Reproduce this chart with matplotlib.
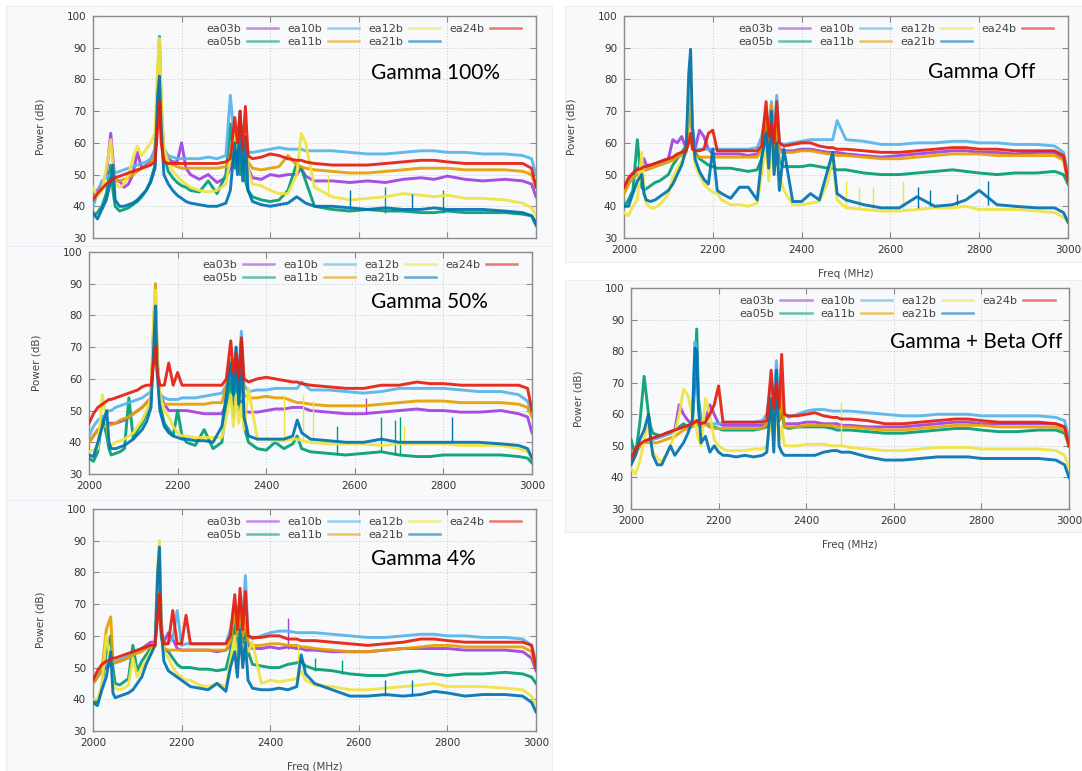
import matplotlib
matplotlib.use("Agg")
import matplotlib.pyplot as plt
import matplotlib.patches as mpatches

# shared frequency grid (MHz) used for every trace
FREQ = [2000, 2010, 2020, 2030, 2040, 2045, 2050,
        2060, 2070, 2080, 2090, 2100, 2110, 2120, 2130, 2140,
        2146, 2150, 2154,
        2160, 2170, 2180, 2190, 2200, 2210, 2220,
        2240, 2260, 2280, 2300,
        2310, 2320, 2326, 2332, 2338, 2344, 2350,
        2360, 2380, 2400, 2420, 2440, 2460,
        2470, 2480, 2500,
        2540, 2580, 2620, 2660, 2700, 2740, 2770, 2800, 2840, 2880, 2930, 2970,
        2990, 3000]

SERIES = ["ea03b", "ea05b", "ea10b", "ea11b", "ea12b", "ea21b", "ea24b"]
COLORS = {"ea03b": "#a040e0", "ea05b": "#009e73", "ea10b": "#56b4e9", "ea11b": "#e69f00",
          "ea12b": "#f0e442", "ea21b": "#0072b2", "ea24b": "#e51e10"}

# ---- Gamma 100% ----
g100_ea03b = [43, 45, 47, 50, 63, 55, 48,  48, 46, 47, 50, 57, 52, 53, 54, 58,  75, 86, 70,  57, 55, 54, 54, 60, 52, 50,
              48.5, 50, 47.5, 49,  52, 56, 53, 58, 52, 55, 52,  49, 48.5, 50, 49.5, 50, 50,  52, 49.5, 48,
              48, 47.5, 48, 47.5, 48.5, 49, 48.5, 49.5, 48.5, 48, 48.5, 48,  47, 43]
g100_ea05b = [37, 38, 40, 44, 53, 45, 40,  38.5, 39, 39.5, 40.5, 41.5, 43, 45, 48, 53,  80, 93.5, 72,  56, 51, 49, 47.5, 46.5, 46, 45,
              44.5, 48, 44, 50,  66, 52, 62, 50, 60, 48, 45,  43, 42, 41.5, 42, 45, 53.5,  52, 48, 40,
              39, 38.5, 39, 38.5, 38.5, 38, 38, 38.5, 38, 38, 38, 37.5,  37, 35]
g100_ea10b = [40, 44, 48, 49, 50, 50.5, 50.5,  51, 51.5, 52, 52.5, 53, 53.5, 54, 55, 58,  75, 88, 68,  58, 56, 55.5, 55, 55, 55, 55,
              55, 55.5, 55, 56,  75, 60, 58, 65, 58, 62, 57,  57, 57.5, 58, 58.5, 58, 58,  58, 57.5, 57.5,
              57.5, 57, 56.5, 56.5, 57, 57.5, 57.5, 57, 57, 56.5, 56.5, 56,  55, 50]
g100_ea11b = [42, 44, 46, 47, 48, 48.5, 48.5,  48, 48.5, 49, 50, 51, 52, 52.5, 53.5, 56,  74, 85, 66,  56, 54, 53, 52.5, 52, 52, 52,
              52, 52, 52, 52.5,  56, 62, 58, 66, 56, 60, 54,  52, 51.5, 52, 52.5, 56, 53,  52.5, 52, 51.5,
              51, 50.5, 50.5, 51, 51.5, 52, 52, 52, 51.5, 51.5, 51.5, 51,  50, 46]
g100_ea12b = [46, 43, 45, 52, 61, 53, 47,  46, 47, 50, 55, 59, 56, 58, 60, 63,  85, 93, 75,  58, 54, 51, 49.5, 48, 47, 46,
              45, 44.5, 45, 47,  55, 64, 58, 66, 55, 60, 52,  47, 46.5, 45, 44, 44, 50,  63, 60, 46,
              43, 42, 42.5, 43, 44, 43.5, 43, 43.5, 42.5, 42.5, 42, 41,  39.5, 37]
g100_ea21b = [38, 36, 39, 42, 48, 53, 42,  40, 40, 40.5, 41, 42, 43.5, 45, 47.5, 52,  75, 81, 65,  50, 47, 45, 43.5, 42.5, 41.5, 41,
              40.5, 40, 40, 41,  45, 60, 50, 70, 48, 62, 45,  41.5, 40.5, 40, 40.5, 41, 43,  42, 41, 40,
              40, 39.5, 39, 39.5, 39, 39, 39.5, 39, 39, 39, 38.5, 38,  37, 34]
g100_ea24b = [42, 44, 45.5, 47, 48, 48.5, 49,  49.5, 50, 50.5, 51, 51.5, 52, 52.5, 53, 54,  65, 73, 60,  54, 53.5, 53.5, 53.5, 53.5, 53.5, 53.5,
              53.5, 53.5, 53.5, 54,  55, 68, 60, 70, 58, 71.5, 56,  55, 55.5, 56.5, 56, 55, 54.5,  54.5, 54, 53.5,
              53, 53, 53, 53.5, 54, 54.5, 54.5, 54, 53.5, 53.5, 53.5, 53.5,  52, 46]
g100_spikes = [("ea12b", 2530, 43, 50), ("ea21b", 2580, 39, 45), ("ea05b", 2660, 38, 46),
               ("ea21b", 2720, 39, 44), ("ea05b", 2790, 38, 45)]

# ---- Gamma 50% ----
g50_ea03b = [40, 42, 44, 45, 45.5, 46, 46,  46, 46.5, 47, 48, 49, 50, 51, 52.5, 54,  75, 86, 65,  55, 52, 50, 50, 50, 50, 50,
             49.5, 49, 49, 49,  52, 55, 52, 54, 51, 53, 50,  49.5, 49.5, 50, 50.5, 50.5, 51,  51, 51, 50,
             49.5, 49, 49, 49.5, 50, 50.5, 50, 50, 49.5, 49.5, 50, 49,  48, 43]
g50_ea05b = [35, 34, 37, 48, 42, 38, 36,  36.5, 37, 38, 54, 41, 44, 46, 49, 53,  75, 85, 65,  52, 46, 44, 42, 50, 42, 40,
             39, 44, 38, 40,  52, 60, 48, 65, 50, 68, 45,  40, 38, 37.5, 40, 38, 39.5,  42, 38, 37,
             36.5, 36, 36.5, 37, 36, 35.5, 35.5, 36, 36, 36, 36, 35.5,  35, 33.5]
g50_ea10b = [42, 45, 47, 48, 49, 50, 50,  51, 51.5, 52, 52.5, 53, 53.5, 54, 55, 56,  72, 83, 65,  55, 54, 53.5, 53.5, 53.5, 54, 54,
             54, 54.5, 55, 55.5,  58, 62, 58, 70, 60, 75, 58,  56, 56.5, 56.5, 57, 57, 57,  57, 59, 56.5,
             56.5, 56, 55.5, 56, 57, 57, 57, 57, 56.5, 56, 56, 55,  53, 49]
g50_ea11b = [40, 42, 44, 45, 45, 45.5, 45.5,  46, 47, 47.5, 48, 49, 50, 51, 52.5, 54,  78, 90, 68,  53, 52, 52, 52, 52, 52, 52,
             52, 52, 52.5, 52.5,  58, 66, 60, 68, 58, 64, 55,  54, 54, 54.5, 54, 54, 53,  52.5, 52.5, 52,
             51.5, 51.5, 51.5, 52, 52.5, 53, 53, 53, 52.5, 52.5, 52.5, 52,  51, 48]
g50_ea12b = [37, 37.5, 38, 55, 46, 40, 39,  40, 40.5, 41, 42, 43, 45, 47, 50, 54,  80, 88, 65,  55, 50, 48, 45, 43, 42, 42,
             41.5, 41.5, 41.5, 41.5,  48, 55, 45, 55, 46, 52, 44,  57, 41, 41, 40.5, 40.5, 41,  41, 40.5, 40,
             39.5, 39.5, 39.5, 39, 39.5, 39.5, 39.5, 39.5, 39, 39, 39, 38,  37, 35]
g50_ea21b = [36, 35.5, 40, 45, 50, 40, 38,  38, 38.5, 39, 40, 41, 42.5, 44, 46.5, 51,  70, 83, 62,  50, 45, 43, 42, 41.5, 41, 41,
             40.5, 40.5, 40, 45,  55, 65, 55, 70, 52, 72, 48,  42, 41, 41, 41, 41, 42,  47, 43, 41,
             40.5, 40, 40, 41, 40, 40, 40, 40, 40, 40, 39.5, 39,  38, 35]
g50_ea24b = [46, 49, 51, 52, 53, 53.5, 53.5,  54, 54.5, 55, 55.5, 56, 56.5, 57.5, 58, 58,  65, 70, 62,  58, 58, 65, 58, 62, 58, 58,
             58, 58, 58, 58,  60, 72, 62, 68, 60, 73, 60,  59, 60, 60.5, 60, 59.5, 59,  59, 58.5, 58,
             57.5, 57, 57, 58, 58, 59, 58.5, 58.5, 58, 58, 58, 58,  57, 50]
g50_spikes = [("ea12b", 2440, 40.5, 55), ("ea12b", 2482, 40.5, 55), ("ea12b", 2505, 40, 53),
              ("ea05b", 2560, 36, 45), ("ea05b", 2660, 37, 48), ("ea05b", 2690, 36, 47),
              ("ea05b", 2702, 36, 48), ("ea03b", 2625, 49, 54), ("ea21b", 2820, 40, 48),
              ("ea12b", 2710, 39.5, 45)]

# ---- Gamma 4% ----
g4_ea03b = [45, 47, 49, 50, 51, 51.5, 51.5,  52, 52.5, 53.5, 54, 55, 56, 57, 58, 58,  68, 73, 62,  58, 61, 59, 56, 55.5, 55.5, 55.5,
            55.5, 55.5, 55, 55.5,  57, 62, 58, 64, 58, 62, 57,  56, 56, 56.5, 56, 56.5, 56,  56, 55.5, 55.5,
            55, 55, 55, 55.5, 56, 56, 56, 56, 55.5, 55.5, 55.5, 55,  53, 49]
g4_ea05b = [40, 39, 44, 55, 60, 50, 45,  44.5, 45.5, 46.5, 57, 49, 52, 54, 56, 57,  70, 75, 60,  56, 55, 53, 51, 50, 50, 50,
            49.5, 49.5, 49, 49.5,  55, 65, 55, 68, 58, 62, 55,  51, 50.5, 50, 50, 51, 51.5,  52, 50.5, 49.5,
            49, 48, 47.5, 47.5, 48.5, 49, 48, 47.5, 48, 48, 48.5, 48,  47, 45]
g4_ea10b = [45, 48, 50, 51, 51.5, 52, 52,  52.5, 53, 53.5, 54, 55, 55.5, 56, 57, 57,  72, 85, 65,  57, 58, 59, 68, 57, 57.5, 57.5,
            57.5, 57.5, 57.5, 57.5,  62, 70, 65, 72, 65, 79, 60,  59, 60, 61, 61.5, 61.5, 61,  61, 61, 61,
            60.5, 60, 59.5, 59.5, 60, 60.5, 60.5, 60, 60, 59.5, 59.5, 59,  57, 52]
g4_ea11b = [45, 47, 49, 62, 66, 52, 51.5,  52, 52.5, 53, 54, 54.5, 55, 56, 56.5, 57,  70, 74, 62,  56, 55.5, 55.5, 55.5, 55.5, 55.5, 55.5,
            55.5, 55.5, 55.5, 55.5,  58, 68, 60, 70, 60, 65, 58,  57, 57, 57.5, 57.5, 57, 57,  56.5, 56.5, 56,
            55.5, 55, 55, 55.5, 56, 56.5, 57, 57, 56.5, 56.5, 56.5, 56.5,  55, 50]
g4_ea12b = [40, 40, 44, 60, 52, 45, 43.5,  43, 43.5, 44.5, 53, 47, 50, 52, 55, 57,  82, 90, 65,  55, 53, 50, 48, 47, 46, 46,
            44.5, 44, 45, 44,  52, 60, 50, 62, 52, 58, 55,  58, 45, 46, 45.5, 46, 46.5,  49, 46, 44.5,
            44, 43, 43, 43.5, 44, 44.5, 45, 44, 44, 44, 43.5, 43,  41, 38]
g4_ea21b = [39, 38, 43, 47, 55, 42, 40.5,  41, 41.5, 42, 43, 45, 47, 51, 54, 57,  80, 88, 62,  52, 49, 48, 47, 46, 45, 44,
            43.5, 43, 45, 42.5,  50, 55, 47, 62, 50, 58, 46,  43.5, 43, 43, 43.5, 43, 44,  54, 48, 45,
            43, 41, 41, 41.5, 41, 41.5, 42.5, 42, 41, 41.5, 41.5, 41,  39, 36]
g4_ea24b = [46, 49, 51, 52, 52.5, 53, 53,  53.5, 54, 54.5, 55, 55.5, 56, 56.5, 57, 57,  66, 73, 62,  57.5, 57.5, 68, 57.5, 57.5, 66.5, 57.5,
            57.5, 57.5, 57.5, 57.5,  60, 73, 62, 75, 62, 74, 60,  59.5, 59.5, 60, 60, 59, 59,  58.5, 58.5, 58.5,
            58, 57.5, 57, 57.5, 58, 59, 59, 58.5, 58, 58, 58, 58,  57, 50]
g4_spikes = [("ea03b", 2440, 56, 65.5), ("ea05b", 2500, 49, 53), ("ea05b", 2562, 48, 52.5),
             ("ea12b", 2462, 46, 57), ("ea21b", 2660, 41, 46), ("ea21b", 2720, 41, 46)]

# ---- Gamma Off ----
goff_ea03b = [45, 48, 50, 52, 53, 55, 53,  53, 53.5, 54, 54.5, 55, 61, 60, 62, 58,  68, 76, 62,  58, 64, 62, 58, 56.5, 56.5, 56.5,
              56.5, 56.5, 56, 56.5,  58, 65, 60, 68, 60, 66, 58,  57.5, 57.5, 58, 58, 57.5, 57,  57, 57, 56.5,
              56, 55.5, 56, 56.5, 57, 57.5, 57.5, 57, 57, 56.5, 57, 57,  55, 48]
goff_ea05b = [40, 42, 45, 61, 46, 45, 45.5,  46.5, 47.5, 48, 49, 50, 53, 55, 57, 59,  72, 78, 65,  57, 55, 54, 53, 52.5, 52, 52,
              52, 51.5, 51, 51.5,  55, 65, 58, 70, 56, 62, 54,  52.5, 52.5, 52.5, 53, 52.5, 52,  52, 51.5, 51.5,
              50.5, 50, 50, 50.5, 51, 51.5, 51, 50.5, 50, 50.5, 50.5, 51,  50, 47]
goff_ea10b = [44, 47, 49, 50, 51, 51.5, 51.5,  52, 52.5, 53, 53.5, 54, 55, 56, 56.5, 57,  72, 80, 65,  58, 58, 58, 58, 58, 58, 58,
              58, 58, 58, 58.5,  62, 70, 64, 73, 62, 75, 60,  59.5, 60, 60.5, 61, 61, 61,  61, 67, 61,
              60.5, 59.5, 59.5, 60, 60, 60.5, 60.5, 60, 60, 59.5, 59.5, 59,  57, 50]
goff_ea11b = [44, 47, 49, 50, 51, 51.5, 51.5,  52, 52.5, 53, 53.5, 54, 54.5, 55.5, 56, 57,  68, 73, 62,  56, 55.5, 55.5, 55.5, 55.5, 55.5, 55.5,
              55.5, 55.5, 55.5, 55.5,  58, 70, 60, 72, 58, 66, 57,  57, 57, 57.5, 57.5, 57, 56.5,  56.5, 56, 56,
              55.5, 55, 55, 55.5, 56, 56.5, 56.5, 56.5, 56, 56, 56, 56,  54.5, 48]
goff_ea12b = [38, 37, 40, 42, 57, 45, 41,  39.5, 39.5, 40.5, 42, 44, 49, 52, 54, 57,  80, 87, 62,  53, 50, 47, 45.5, 44.5, 44, 42,
              40.5, 40.5, 40, 41,  50, 60, 48, 62, 50, 58, 50,  45, 40.5, 40.5, 41, 41.5, 48,  56, 42, 39.5,
              39, 38.5, 38.5, 39, 39.5, 39.5, 40, 39, 39, 39, 38.5, 38,  36.5, 35]
goff_ea21b = [40, 40, 44, 48, 50, 44, 42,  41.5, 42, 43, 44, 45, 47, 50, 53, 58,  82, 89.5, 65,  55, 51, 48.5, 47, 58, 45, 44,
              42.5, 46, 46, 42,  55, 63, 52, 70, 50, 60, 45,  58, 41.5, 41.5, 44, 42, 52,  57, 44, 42,
              40.5, 39.5, 39.5, 43, 40, 40.5, 42, 45, 40.5, 40, 39.5, 39.5,  38, 35]
goff_ea24b = [46, 49, 50.5, 51.5, 52, 52.5, 52.5,  53, 53.5, 54, 54.5, 55, 55.5, 56.5, 57, 57.5,  60, 63, 58,  57.5, 57.5, 58, 63, 64, 57.5, 57.5,
              57.5, 57.5, 57.5, 57.5,  59, 73, 62, 66, 60, 73, 60,  59, 59.5, 60, 60, 59, 58.5,  58.5, 58, 58,
              57.5, 57, 57, 57.5, 58, 58.5, 58.5, 58, 58, 57.5, 57.5, 57.5,  56, 48]
goff_spikes = [("ea12b", 2500, 39.5, 48), ("ea12b", 2530, 39, 46), ("ea12b", 2560, 38.5, 46),
               ("ea12b", 2628, 38.5, 48), ("ea21b", 2662, 39.5, 46), ("ea21b", 2690, 40, 45),
               ("ea21b", 2750, 40.5, 44), ("ea21b", 2820, 40.5, 48)]

# ---- Gamma + Beta Off ----
gboff_ea03b = [45, 48, 50, 51, 52, 52, 52.5,  52.5, 53, 53.5, 54, 55, 63, 60, 58, 57,  57.5, 58, 57,  57, 58, 63, 60, 57, 56.5, 56.5,
               56.5, 56.5, 56.5, 56.5,  57, 62, 58, 65, 58, 60, 57,  57, 57, 57.5, 57.5, 57, 57,  57, 56.5, 56.5,
               56, 56, 56, 56.5, 57, 57.5, 57.5, 57, 57, 57, 57, 57,  56, 50]
gboff_ea05b = [52, 47, 57, 72, 60, 56, 54,  53.5, 53, 54, 54.5, 55, 56, 57, 56, 57,  70, 87, 65,  58, 57, 56, 56, 55.5, 55, 55,
               55, 55, 55, 55.5,  56, 62, 58, 68, 58, 62, 56,  55.5, 56, 56, 56, 56, 55.5,  55, 55, 55,
               54.5, 54, 54, 54.5, 55, 55.5, 55.5, 55, 54.5, 54.5, 55, 55,  54, 50]
gboff_ea10b = [45, 48, 50, 51, 52, 52, 52,  52.5, 53, 53.5, 54, 55, 55.5, 56, 56.5, 57,  83, 78, 62,  57, 57, 57, 57, 57, 57.5, 57.5,
               57.5, 57.5, 57.5, 58,  60, 70, 64, 77, 62, 68, 60,  59, 60, 61, 61.5, 61.5, 61,  61, 61, 61,
               60.5, 60, 59.5, 59.5, 60, 60, 60, 59.5, 59.5, 59.5, 59.5, 59,  58, 52]
gboff_ea11b = [44, 47, 50, 51, 51, 51, 51,  51, 51.5, 52, 52.5, 53, 54, 55, 55.5, 56,  56.5, 57, 56.5,  56, 57, 56, 55.5, 55.5, 55.5, 55.5,
               55.5, 55.5, 55.5, 55.5,  57, 64, 58, 70, 58, 66, 56,  56, 56, 56.5, 56.5, 56.5, 56.5,  56, 56, 56,
               55.5, 55, 55, 55.5, 56, 56.5, 56.5, 56.5, 56, 56, 56, 56,  55, 50]
gboff_ea12b = [43, 41, 45, 52, 58, 52, 48,  46, 45, 47, 50, 54, 60, 68, 66, 60,  57, 55, 52,  50, 65, 60, 52, 50, 49, 48.5,
               48.5, 48.5, 49, 49,  50, 58, 52, 62, 52, 56, 50,  50, 50, 50.5, 50.5, 50.5, 50,  50, 50, 49.5,
               49, 48.5, 48.5, 49, 49.5, 49.5, 49.5, 49, 49, 49, 49, 48.5,  47, 43]
gboff_ea21b = [44, 47, 52, 55, 60, 52, 47,  44, 44, 47, 50, 47, 49, 51, 54, 58,  81, 80, 62,  51, 53, 48, 50, 48, 47, 47,
               46.5, 47, 46.5, 47,  48, 65, 48, 74, 50, 48, 47,  47, 47, 47, 47, 48, 48.5,  48.5, 48, 48,
               46.5, 45.5, 45.5, 46, 46.5, 46.5, 46.5, 46, 46, 46, 46, 45.5,  44, 40]
gboff_ea24b = [46, 49, 50.5, 51.5, 52, 52.5, 52.5,  53, 53.5, 54, 54.5, 55, 55.5, 56, 56.5, 57,  57.5, 58, 57.5,  57, 57.5, 60, 63, 69, 57.5, 57.5,
               57.5, 57.5, 57.5, 57.5,  58, 74, 62, 70, 62, 79, 60,  59.5, 59.5, 60, 60.5, 59.5, 59,  59, 58.5, 58.5,
               58, 57, 57, 57.5, 58, 58.5, 58.5, 58, 57.5, 57.5, 57.5, 57,  56, 50]
gboff_spikes = [("ea12b", 2480, 50, 64)]

PANELS = [
    # title, traces, spikes, axes box (px: left, top, right, bottom), title anchor (px), x tick labels, x label
    ("Gamma 100%", [g100_ea03b, g100_ea05b, g100_ea10b, g100_ea11b, g100_ea12b, g100_ea21b, g100_ea24b],
     g100_spikes, (93, 16, 536, 238), (371, 73), False, False),
    ("Gamma 50%", [g50_ea03b, g50_ea05b, g50_ea10b, g50_ea11b, g50_ea12b, g50_ea21b, g50_ea24b],
     g50_spikes, (89, 252, 532, 474), (371, 302), True, False),
    ("Gamma 4%", [g4_ea03b, g4_ea05b, g4_ea10b, g4_ea11b, g4_ea12b, g4_ea21b, g4_ea24b],
     g4_spikes, (93, 509, 536, 731), (371, 559), True, True),
    ("Gamma Off", [goff_ea03b, goff_ea05b, goff_ea10b, goff_ea11b, goff_ea12b, goff_ea21b, goff_ea24b],
     goff_spikes, (624, 16, 1068, 238), (928, 72), True, True),
    ("Gamma + Beta Off", [gboff_ea03b, gboff_ea05b, gboff_ea10b, gboff_ea11b, gboff_ea12b, gboff_ea21b, gboff_ea24b],
     gboff_spikes, (631, 288, 1069, 509), (890, 342), True, True),
]

CARDS = [(6, 6, 552, 246), (6, 246, 552, 500), (6, 500, 552, 771),
         (565, 6, 1082, 262), (565, 280, 1082, 532)]

W, H = 1082, 771
fig = plt.figure(figsize=(W / 100, H / 100), dpi=100, facecolor="white")

# light screenshot cards behind each plot
for l, t, r, b in CARDS:
    fig.patches.append(mpatches.Rectangle((l / W, 1 - b / H), (r - l) / W, (b - t) / H,
                                          transform=fig.transFigure, facecolor="#f8f9fb",
                                          edgecolor="#eceef2", lw=0.8, zorder=-5))

for title, traces, spikes, (l, t, r, b), (tx, ty), show_xt, show_xl in PANELS:
    for name, vals in zip(SERIES, traces):
        if len(vals) != len(FREQ):
            raise ValueError(f"{title} {name}: {len(vals)} values")

    ax = fig.add_axes([l / W, 1 - b / H, (r - l) / W, (b - t) / H])
    ax.set_facecolor("#f8f9fb")

    lines = []
    for i, (name, vals) in enumerate(zip(SERIES, traces)):
        ln, = ax.plot(FREQ, vals, color=COLORS[name], lw=2.1, alpha=0.92, zorder=2 + i,
                      solid_joinstyle="round")
        lines.append(ln)
        for s_name, f, lo, hi in spikes:
            if s_name == name:
                ax.vlines(f, lo, hi, color=COLORS[name], lw=1.0, zorder=2 + i)

    ax.set_xlim(2000, 3000)
    ax.set_ylim(30, 100)
    ax.set_xticks(range(2000, 3001, 200))
    ax.set_yticks(range(30, 101, 10))
    ax.grid(True, color="#c8c8c8", linestyle=(0, (1, 2)), lw=0.7, zorder=1)
    ax.tick_params(direction="in", length=4, width=0.8, color="#888888", top=True, right=True,
                   labelsize=7.5, labelcolor="#333333", pad=5)
    if not show_xt:
        ax.tick_params(labelbottom=False)
    for sp in ax.spines.values():
        sp.set_color("#8c8c8c")
        sp.set_linewidth(1.0)

    ax.set_ylabel("Power (dB)", fontsize=7.5, color="#444444")
    ax.yaxis.set_label_coords(-0.108, 0.5)
    if show_xl:
        ax.set_xlabel("Freq (MHz)", fontsize=7.5, color="#444444")
        ax.xaxis.set_label_coords(0.5, -0.14)

    leg = ax.legend(lines, SERIES, ncol=4, loc="upper right", bbox_to_anchor=(0.967, 0.965),
                    frameon=False, markerfirst=False, fontsize=8, handlelength=2.8,
                    handletextpad=0.55, columnspacing=0.8, labelspacing=0.25,
                    borderpad=0, borderaxespad=0)
    for txt in leg.get_texts():
        txt.set_color("#444444")
    for h in leg.get_lines():
        h.set_linewidth(1.8)
        h.set_alpha(0.6)

    fig.text(tx / W, 1 - ty / H, title, fontsize=15, family="Lato", color="black",
             ha="left", va="center")

fig.savefig("out.png", dpi=100, facecolor="white")
